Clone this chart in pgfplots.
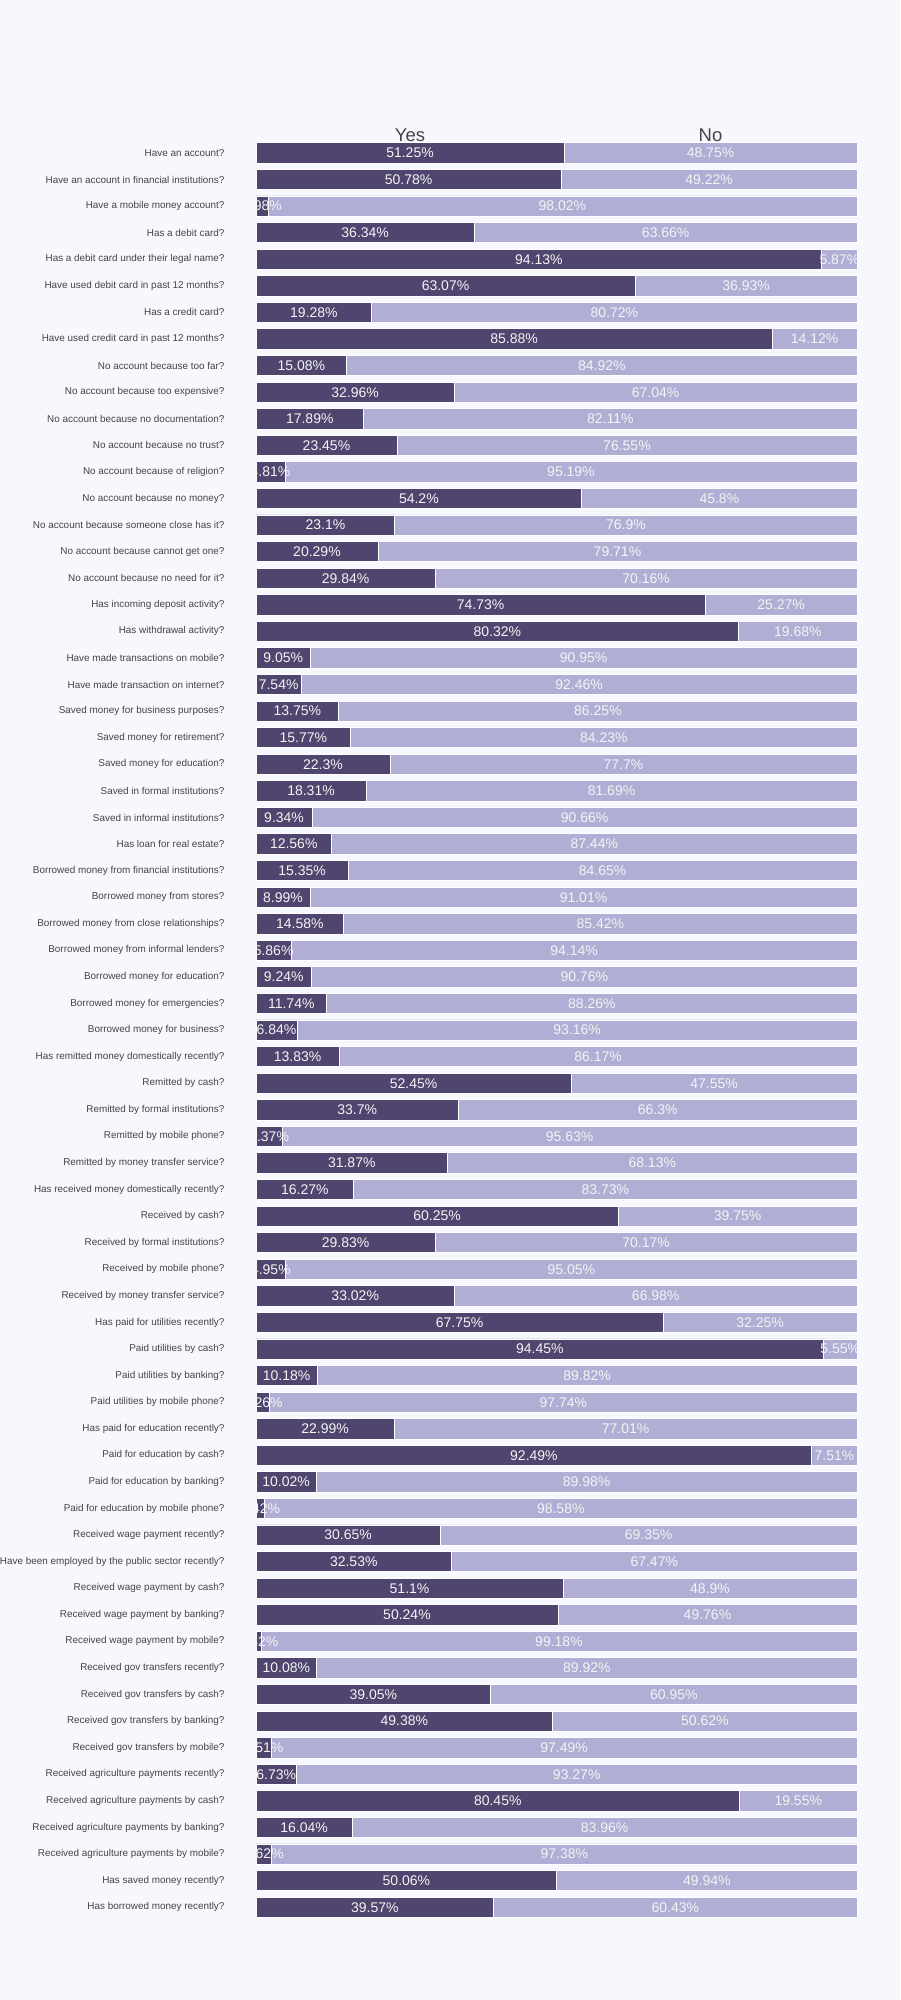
\documentclass[border=0pt]{standalone}
\usepackage{pgfplots}
\usepackage{pgfplotstable}
\pgfplotsset{compat=1.18}
\usepackage{fontspec}
\setmainfont{Liberation Sans}
\definecolor{bg}{RGB}{247,248,253}
\definecolor{dark}{RGB}{79,69,110}
\definecolor{light}{RGB}{176,174,212}
\definecolor{txt}{RGB}{68,68,68}
\definecolor{lbl}{RGB}{244,244,244}

\pgfplotstableread[col sep=comma]{
idx,yes,no,label
0,51.25,48.75,Have an account?
1,50.78,49.22,Have an account in financial institutions?
2,1.98,98.02,Have a mobile money account?
3,36.34,63.66,Has a debit card?
4,94.13,5.87,Has a debit card under their legal name?
5,63.07,36.93,Have used debit card in past 12 months?
6,19.28,80.72,Has a credit card?
7,85.88,14.12,Have used credit card in past 12 months?
8,15.08,84.92,No account because too far?
9,32.96,67.04,No account because too expensive?
10,17.89,82.11,No account because no documentation?
11,23.45,76.55,No account because no trust?
12,4.81,95.19,No account because of religion?
13,54.2,45.8,No account because no money?
14,23.1,76.9,No account because someone close has it?
15,20.29,79.71,No account because cannot get one?
16,29.84,70.16,No account because no need for it?
17,74.73,25.27,Has incoming deposit activity?
18,80.32,19.68,Has withdrawal activity?
19,9.05,90.95,Have made transactions on mobile?
20,7.54,92.46,Have made transaction on internet?
21,13.75,86.25,Saved money for business purposes?
22,15.77,84.23,Saved money for retirement?
23,22.3,77.7,Saved money for education?
24,18.31,81.69,Saved in formal institutions?
25,9.34,90.66,Saved in informal institutions?
26,12.56,87.44,Has loan for real estate?
27,15.35,84.65,Borrowed money from financial institutions?
28,8.99,91.01,Borrowed money from stores?
29,14.58,85.42,Borrowed money from close relationships?
30,5.86,94.14,Borrowed money from informal lenders?
31,9.24,90.76,Borrowed money for education?
32,11.74,88.26,Borrowed money for emergencies?
33,6.84,93.16,Borrowed money for business?
34,13.83,86.17,Has remitted money domestically recently?
35,52.45,47.55,Remitted by cash?
36,33.7,66.3,Remitted by formal institutions?
37,4.37,95.63,Remitted by mobile phone?
38,31.87,68.13,Remitted by money transfer service?
39,16.27,83.73,Has received money domestically recently?
40,60.25,39.75,Received by cash?
41,29.83,70.17,Received by formal institutions?
42,4.95,95.05,Received by mobile phone?
43,33.02,66.98,Received by money transfer service?
44,67.75,32.25,Has paid for utilities recently?
45,94.45,5.55,Paid utilities by cash?
46,10.18,89.82,Paid utilities by banking?
47,2.26,97.74,Paid utilities by mobile phone?
48,22.99,77.01,Has paid for education recently?
49,92.49,7.51,Paid for education by cash?
50,10.02,89.98,Paid for education by banking?
51,1.42,98.58,Paid for education by mobile phone?
52,30.65,69.35,Received wage payment recently?
53,32.53,67.47,Have been employed by the public sector recently?
54,51.1,48.9,Received wage payment by cash?
55,50.24,49.76,Received wage payment by banking?
56,0.82,99.18,Received wage payment by mobile?
57,10.08,89.92,Received gov transfers recently?
58,39.05,60.95,Received gov transfers by cash?
59,49.38,50.62,Received gov transfers by banking?
60,2.51,97.49,Received gov transfers by mobile?
61,6.73,93.27,Received agriculture payments recently?
62,80.45,19.55,Received agriculture payments by cash?
63,16.04,83.96,Received agriculture payments by banking?
64,2.62,97.38,Received agriculture payments by mobile?
65,50.06,49.94,Has saved money recently?
66,39.57,60.43,Has borrowed money recently?
}\datatable

\begin{document}
\begin{tikzpicture}
\path[use as bounding box, fill=bg] (0,0) rectangle (900pt,2000pt);
\pgfplotsset{base/.style={scale only axis, width=601pt, height=1780.9pt,
  at={(256pt,79.5pt)}, anchor=south west,
  xmin=0, xmax=100, ymin=-0.5, ymax=66.5, y dir=reverse,
  axis line style={draw=none}, major tick length=0pt}}
\begin{axis}[base, xbar stacked, bar width=20.3pt,
  ytick={0,...,66}, yticklabels from table={\datatable}{label},
  xtick=\empty, ytick style={draw=none},
  yticklabel style={font=\fontsize{9.9}{12}\selectfont, text=txt, xshift=-28pt},
  clip=false]
\addplot[fill=dark, draw=white, line width=0.8pt] table[x=yes,y=idx]{\datatable};
\addplot[fill=light, draw=white, line width=0.8pt] table[x=no,y=idx]{\datatable};
\node[font=\fontsize{18.5}{20}\selectfont, text=txt, anchor=base, inner sep=0pt] at (axis cs:25.625,-0.43) {Yes};
\node[font=\fontsize{18.5}{20}\selectfont, text=txt, anchor=base, inner sep=0pt] at (axis cs:75.625,-0.43) {No};
\end{axis}
\begin{axis}[base, hide axis, clip=true, clip marker paths=true,
  point meta=explicit,
  nodes near coords={\pgfmathprintnumber{\pgfplotspointmeta}\%},
  every node near coord/.append style={anchor=center, font=\fontsize{14}{16}\selectfont, text=lbl},
  /pgf/number format/assume math mode=true,
  /pgf/number format/fixed, /pgf/number format/precision=2]
\addplot[only marks, mark=*, mark size=0pt, draw=none, fill=none] table[x expr=\thisrow{yes}/2, y=idx, meta=yes]{\datatable};
\addplot[only marks, mark=*, mark size=0pt, draw=none, fill=none] table[x expr=\thisrow{yes}+\thisrow{no}/2, y=idx, meta=no]{\datatable};
\end{axis}
\end{tikzpicture}
\end{document}
